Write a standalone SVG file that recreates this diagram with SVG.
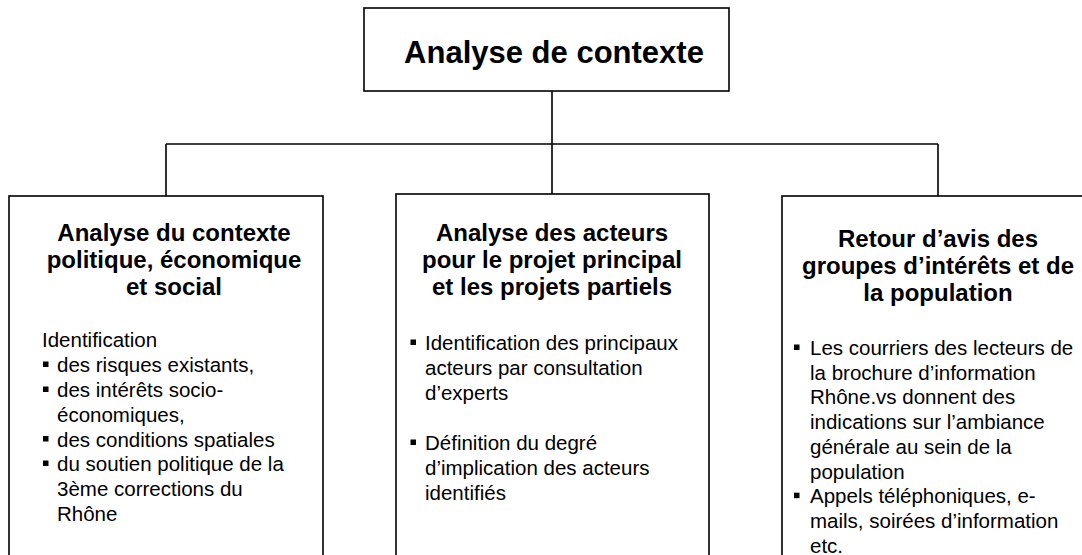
<svg xmlns="http://www.w3.org/2000/svg" width="1082" height="555" viewBox="0 0 1082 555">
<style>
.box{fill:#fff;stroke:#000;stroke-width:1.6}
.conn{fill:none;stroke:#000;stroke-width:1.6}
.title{font-family:"Liberation Sans",Arial,sans-serif;font-weight:bold;font-size:31px;fill:#000}
.head{font-family:"Liberation Sans",Arial,sans-serif;font-weight:bold;font-size:24px;fill:#000;text-anchor:middle}
.body{font-family:"Liberation Sans",Arial,sans-serif;font-size:20.5px;fill:#000}
.bul{fill:#000}
</style>
<rect width="1082" height="555" fill="#fff"/>
<g id="connectors">
<path class="conn" d="M552 91 V194 M166 144 H938 M166 144 V196 M938 144 V196"/>
</g>
<g id="root">
<rect class="box" x="364" y="8" width="365" height="83"/>
<text class="title" x="554" y="63" text-anchor="middle">Analyse de contexte</text>
</g>
<g id="node-politique">
<rect class="box" x="9" y="196" width="314" height="370"/>
<text class="head"><tspan x="174" y="241">Analyse du contexte</tspan><tspan x="174" y="268">politique, économique</tspan><tspan x="174" y="295">et social</tspan></text>
<text class="body"><tspan x="42" y="347">Identification</tspan><tspan x="57" y="372">des risques existants,</tspan><tspan x="57" y="397">des intérêts socio-</tspan><tspan x="57" y="421.5">économiques,</tspan><tspan x="57" y="446.5">des conditions spatiales</tspan><tspan x="57" y="471">du soutien politique de la</tspan><tspan x="57" y="496">3ème corrections du</tspan><tspan x="57" y="521">Rhône</tspan></text>
<rect class="bul" x="43" y="361.5" width="5.5" height="5.5"/>
<rect class="bul" x="43" y="386.5" width="5.5" height="5.5"/>
<rect class="bul" x="43" y="436" width="5.5" height="5.5"/>
<rect class="bul" x="43" y="460.5" width="5.5" height="5.5"/>
</g>
<g id="node-acteurs">
<rect class="box" x="396" y="194" width="313" height="372"/>
<text class="head"><tspan x="552" y="241">Analyse des acteurs</tspan><tspan x="552" y="268">pour le projet principal</tspan><tspan x="552" y="295">et les projets partiels</tspan></text>
<text class="body"><tspan x="425" y="350">Identification des principaux</tspan><tspan x="425" y="375">acteurs par consultation</tspan><tspan x="425" y="400">d’experts</tspan><tspan x="425" y="450">Définition du degré</tspan><tspan x="425" y="475">d’implication des acteurs</tspan><tspan x="425" y="500">identifiés</tspan></text>
<rect class="bul" x="410.5" y="339.5" width="5.5" height="5.5"/>
<rect class="bul" x="410.5" y="439.5" width="5.5" height="5.5"/>
</g>
<g id="node-retour">
<rect class="box" x="782" y="196" width="313" height="370"/>
<text class="head"><tspan x="938" y="246.5">Retour d’avis des</tspan><tspan x="938" y="273.5">groupes d’intérêts et de</tspan><tspan x="938" y="300.5">la population</tspan></text>
<text class="body"><tspan x="810" y="355">Les courriers des lecteurs de</tspan><tspan x="810" y="379.7">la brochure d’information</tspan><tspan x="810" y="404.4">Rhône.vs donnent des</tspan><tspan x="810" y="429.1">indications sur l’ambiance</tspan><tspan x="810" y="453.8">générale au sein de la</tspan><tspan x="810" y="478.5">population</tspan><tspan x="810" y="503.2">Appels téléphoniques, e-</tspan><tspan x="810" y="527.9">mails, soirées d’information</tspan><tspan x="810" y="552.6">etc.</tspan></text>
<rect class="bul" x="794" y="344.5" width="5.5" height="5.5"/>
<rect class="bul" x="794" y="492.7" width="5.5" height="5.5"/>
</g>
</svg>
